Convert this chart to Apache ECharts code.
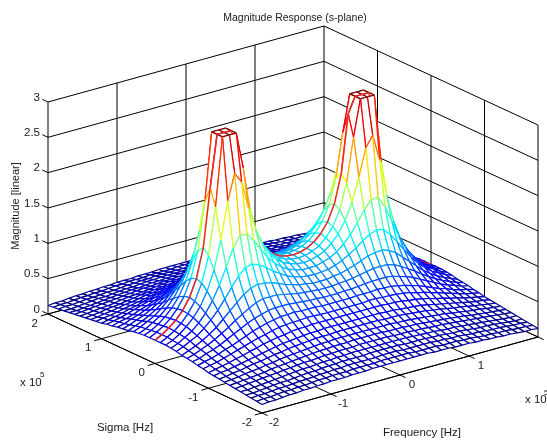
<!DOCTYPE html>
<html><head><meta charset="utf-8">
<style>html,body{margin:0;padding:0;background:#fff}#c{width:547px;height:442px}</style>
<script src="https://cdn.jsdelivr.net/npm/echarts@6/dist/echarts.min.js"></script>
</head><body><div id="c"></div>
<script>
// Magnitude read for |Frequency| = 0.0 .. 2.0 (rows) and |Sigma| = 0.0 .. 2.0 (columns), x 10^5 Hz
const magnitudeRows = [
[1.00,.99,.96,.92,.86,.80,.74,.67,.61,.55,.50,.45,.41,.37,.34,.31,.28,.26,.24,.22,.20],
[1.01,1.00,.97,.92,.87,.80,.74,.67,.61,.55,.50,.45,.41,.37,.34,.31,.28,.26,.24,.22,.20],
[1.04,1.03,1.00,.95,.88,.82,.75,.68,.61,.55,.50,.45,.41,.37,.34,.31,.28,.26,.23,.22,.20],
[1.10,1.08,1.04,.98,.91,.83,.76,.68,.62,.55,.50,.45,.41,.37,.33,.30,.28,.25,.23,.21,.20],
[1.19,1.17,1.12,1.04,.95,.86,.77,.69,.62,.56,.50,.45,.40,.37,.33,.30,.28,.25,.23,.21,.20],
[1.33,1.30,1.23,1.12,1.01,.89,.79,.70,.62,.56,.50,.44,.40,.36,.33,.30,.27,.25,.23,.21,.19],
[1.56,1.51,1.39,1.23,1.07,.93,.81,.71,.63,.55,.49,.44,.40,.36,.32,.29,.27,.25,.23,.21,.19],
[1.96,1.86,1.62,1.37,1.15,.97,.83,.71,.62,.55,.49,.43,.39,.35,.32,.29,.26,.24,.22,.20,.19],
[2.78,2.48,1.95,1.52,1.21,.99,.83,.71,.62,.54,.48,.42,.38,.34,.31,.28,.26,.24,.22,.20,.18],
[3,3,2.34,1.64,1.25,1.00,.83,.70,.60,.53,.46,.41,.37,.33,.30,.27,.25,.23,.21,.20,.18],
[3,3,2.49,1.65,1.23,.97,.80,.67,.58,.51,.45,.40,.36,.32,.29,.27,.24,.22,.21,.19,.18],
[3,3,2.12,1.49,1.13,.91,.75,.64,.55,.48,.43,.38,.34,.31,.28,.26,.24,.22,.20,.19,.17],
[2.27,2.03,1.60,1.25,1.00,.82,.69,.60,.52,.46,.41,.36,.33,.30,.27,.25,.23,.21,.19,.18,.17],
[1.45,1.37,1.20,1.02,.86,.73,.63,.55,.48,.43,.38,.34,.31,.28,.26,.24,.22,.20,.19,.17,.16],
[1.04,1.01,.93,.83,.73,.64,.56,.50,.44,.40,.36,.32,.29,.27,.25,.23,.21,.19,.18,.17,.16],
[.80,.78,.74,.68,.62,.55,.50,.45,.40,.37,.33,.30,.28,.25,.23,.22,.20,.19,.17,.16,.15],
[.64,.63,.61,.57,.53,.48,.44,.40,.37,.34,.31,.28,.26,.24,.22,.21,.19,.18,.17,.16,.15],
[.53,.52,.51,.48,.45,.42,.39,.36,.33,.31,.28,.26,.24,.23,.21,.20,.18,.17,.16,.15,.14],
[.45,.44,.43,.42,.40,.37,.35,.33,.30,.28,.26,.24,.23,.21,.20,.19,.17,.16,.15,.14,.13],
[.38,.38,.37,.36,.35,.33,.31,.29,.28,.26,.24,.23,.21,.20,.19,.18,.16,.15,.15,.14,.13],
[.33,.33,.33,.32,.31,.29,.28,.27,.25,.24,.22,.21,.20,.19,.18,.17,.16,.15,.14,.13,.12]
];
const meshStep = 0.1;
const sigmaTicks = [-2,-1,0,1,2];
const freqTicks = [-2,-1,0,1,2];
const magTicks = [0,0.5,1,1.5,2,2.5,3];
const titleText = 'Magnitude Response (s-plane)';
const sigmaTitle = 'Sigma [Hz]';
const freqTitle = 'Frequency [Hz]';
const magTitle = 'Magnitude [linear]';

const FONT = '"Liberation Sans", Arial, sans-serif';
const TEXT = '#1a1a1a';
const N = 40;
const fOf = i => -2 + i * meshStep;
const mag = (fi, si) => magnitudeRows[Math.abs(fi - 20)][Math.abs(si - 20)];

// view: orthographic projection of the box onto plot space
function project(f, s, z) {
  return [262 + 69 * (f + 2) - 53.5 * (s + 2),
          413 - 19 * (f + 2) - 24.75 * (s + 2) - 70.67 * z];
}
function jet(z) {
  const t = (z - 0.12) / (3 - 0.12);
  const c = v => Math.round(255 * Math.max(0, Math.min(1, v)));
  return 'rgb(' + c(1.5 - Math.abs(4 * t - 3)) + ',' + c(1.5 - Math.abs(4 * t - 2)) + ',' + c(1.5 - Math.abs(4 * t - 1)) + ')';
}

// frame: walls, floor, ticks
const seg = [];
const add = (a, b) => seg.push([a, b]);
const S0 = -2, S1 = 2, F0 = -2, F1 = 2, Z1 = 3;
magTicks.forEach(z => {
  add([F0, S1, z], [F1, S1, z]);
  add([F1, S1, z], [F1, S0, z]);
  add([F0, S1, z], [F0, S1 + 0.105, z]);
});
[F0, -1, 0, 1, F1].forEach(f => add([f, S1, 0], [f, S1, Z1]));
[1, 0, -1, S0].forEach(s => add([F1, s, 0], [F1, s, Z1]));
add([F0, S0, 0], [F1, S0, 0]);
add([F0, S0, 0], [F0, S1, 0]);
freqTicks.forEach(f => { add([f, S1, 0], [f, S0 - 0.105, 0]); });
sigmaTicks.forEach(s => { add([F1, s, 0], [F0 - 0.105, s, 0]); });

const texts = [];
magTicks.forEach(z => {
  const p = project(F0, S1, z);
  texts.push({ t: String(z), x: p[0] - 8, y: p[1] - 4.5, a: 'right' });
});
sigmaTicks.forEach(s => {
  const p = project(F0, s, 0);
  texts.push({ t: String(s), x: p[0] - 10, y: p[1] + 9.5, a: 'right' });
});
freqTicks.forEach(f => {
  const p = project(f, S0, 0);
  texts.push({ t: String(f), x: p[0] + 12, y: p[1] + 10, a: 'center' });
});

function faceItem(api, fi, si) {
  const corners = [[fi, si], [fi + 1, si], [fi + 1, si + 1], [fi, si + 1]];
  const pts = corners.map(c => api.coord(project(fOf(c[0]), fOf(c[1]), mag(c[0], c[1]))));
  const zs = corners.map(c => mag(c[0], c[1]));
  const children = [{ type: 'polygon', shape: { points: pts }, style: { fill: '#fff', stroke: null } }];
  for (let k = 0; k < 4; k++) {
    const m = (k + 1) % 4;
    children.push({ type: 'line',
      shape: { x1: pts[k][0], y1: pts[k][1], x2: pts[m][0], y2: pts[m][1] },
      style: { stroke: jet((zs[k] + zs[m]) / 2), lineWidth: 1.2, fill: null } });
  }
  return { type: 'group', children };
}
// cells back to front; the red sigma = 0 trace is painted over the row that touches it
const meshOrder = [];
for (let si = N - 1; si >= 0; si--) {
  if (si === 18) meshOrder.push([0, 0, -1, -1]);
  for (let fi = N - 1; fi >= 0; fi--) meshOrder.push([0, 0, fi, si]);
}
function redTrace(api) {
  const points = [];
  for (let fi = 0; fi <= N; fi++) points.push(api.coord(project(fOf(fi), 0, mag(fi, 20))));
  return { type: 'polyline', shape: { points }, style: { stroke: '#f02828', lineWidth: 1.5, fill: null } };
}

const option = {
  animation: false,
  backgroundColor: '#fff',
  grid: { left: 0, right: 0, top: 0, bottom: 0 },
  xAxis: { type: 'value', min: 0, max: 547, show: false },
  yAxis: { type: 'value', min: 0, max: 442, inverse: true, show: false },
  title: { text: titleText, left: 290, top: 8, textAlign: 'center',
    textStyle: { fontFamily: FONT, fontSize: 10.5, fontWeight: 'normal', color: TEXT } },
  graphic: [
    { type: 'text', x: 125, y: 428, style: { text: sigmaTitle, font: '11.5px ' + FONT, fill: TEXT, align: 'center', verticalAlign: 'middle' } },
    { type: 'text', x: 422, y: 433, style: { text: freqTitle, font: '11.5px ' + FONT, fill: TEXT, align: 'center', verticalAlign: 'middle' } },
    { type: 'text', x: 15.5, y: 206, rotation: Math.PI / 2, style: { text: magTitle, font: '11px ' + FONT, fill: TEXT, align: 'center', verticalAlign: 'middle' } },
    { type: 'text', x: 20, y: 383, style: { text: 'x 10', font: '11.5px ' + FONT, fill: TEXT, align: 'left', verticalAlign: 'middle' } },
    { type: 'text', x: 40, y: 375, style: { text: '5', font: '8px ' + FONT, fill: TEXT, align: 'left', verticalAlign: 'middle' } },
    { type: 'text', x: 525, y: 400, style: { text: 'x 10', font: '11.5px ' + FONT, fill: TEXT, align: 'left', verticalAlign: 'middle' } },
    { type: 'text', x: 544, y: 393, style: { text: '5', font: '8px ' + FONT, fill: TEXT, align: 'left', verticalAlign: 'middle' } }
  ],
  series: [
    { type: 'custom', coordinateSystem: 'cartesian2d', silent: true, clip: false, animation: false, progressive: 0, z: 1,
      data: seg.map((s, i) => [0, 0, i]), encode: { x: 0, y: 1 },
      renderItem: (params, api) => {
        const s = seg[api.value(2)];
        const a = api.coord(project(s[0][0], s[0][1], s[0][2]));
        const b = api.coord(project(s[1][0], s[1][1], s[1][2]));
        return { type: 'line', shape: { x1: a[0], y1: a[1], x2: b[0], y2: b[1] }, style: { stroke: '#000', lineWidth: 1, fill: null } };
      } },
    { type: 'custom', coordinateSystem: 'cartesian2d', silent: true, clip: false, animation: false, progressive: 0, z: 1,
      data: texts.map((t, i) => [0, 0, i]), encode: { x: 0, y: 1 },
      renderItem: (params, api) => {
        const t = texts[api.value(2)];
        const p = api.coord([t.x, t.y]);
        return { type: 'text', x: p[0], y: p[1], style: { text: t.t, font: '11.5px ' + FONT, fill: TEXT, align: t.a, verticalAlign: 'middle' } };
      } },
    { type: 'custom', coordinateSystem: 'cartesian2d', silent: true, clip: false, animation: false, progressive: 0, z: 2,
      encode: { x: 0, y: 1 }, data: meshOrder,
      renderItem: (params, api) => api.value(2) < 0 ? redTrace(api) : faceItem(api, api.value(2), api.value(3)) }
  ]
};
echarts.init(document.getElementById('c'), null, { renderer: 'canvas' }).setOption(option);
</script></body></html>
